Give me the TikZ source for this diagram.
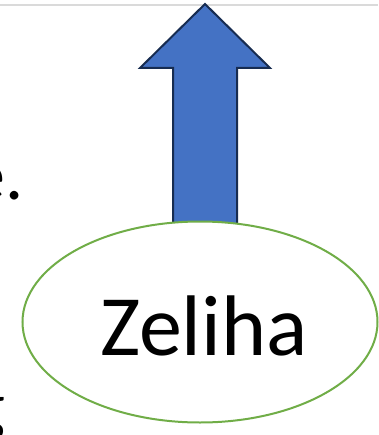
\documentclass[tikz,border=0pt]{standalone}
\usepackage{fontspec}
\setmainfont{Carlito}
\usetikzlibrary{shapes.geometric}
\definecolor{arrowfill}{HTML}{4472C4}
\definecolor{arrowline}{HTML}{172C51}
\definecolor{ellgreen}{HTML}{70AD47}
\definecolor{rulegray}{HTML}{DADADA}
\begin{document}
\begin{tikzpicture}[x=1pt,y=-1pt,
  bigarrow/.style={fill=arrowfill,draw=arrowline,line width=2pt,line join=miter},
  namebox/.style={ellipse,draw=ellgreen,fill=white,line width=2pt,minimum width=355pt,minimum height=201pt,inner sep=0pt,font=\fontsize{86}{90}\selectfont},
  sidetext/.style={inner sep=0pt,font=\fontsize{72}{80}\selectfont}]
\useasboundingbox (0,0) rectangle (378,435);
\draw[rulegray,line width=2pt] (0,5) -- (378,5);
\draw[bigarrow] (205,4) -- (270,68) -- (237,68) -- (237,226) -- (173,226) -- (173,68) -- (140,68) -- cycle;
\node[namebox] (zeliha) at (200,322) {};
\node[inner sep=0pt,font=\fontsize{86}{90}\selectfont,anchor=base] (name) at (204,355) {Zeliha};
\node[sidetext,anchor=base east] (e) at (24,200) {e.};
\node[sidetext,anchor=base east] (g) at (6,430) {g};
\end{tikzpicture}
\end{document}
